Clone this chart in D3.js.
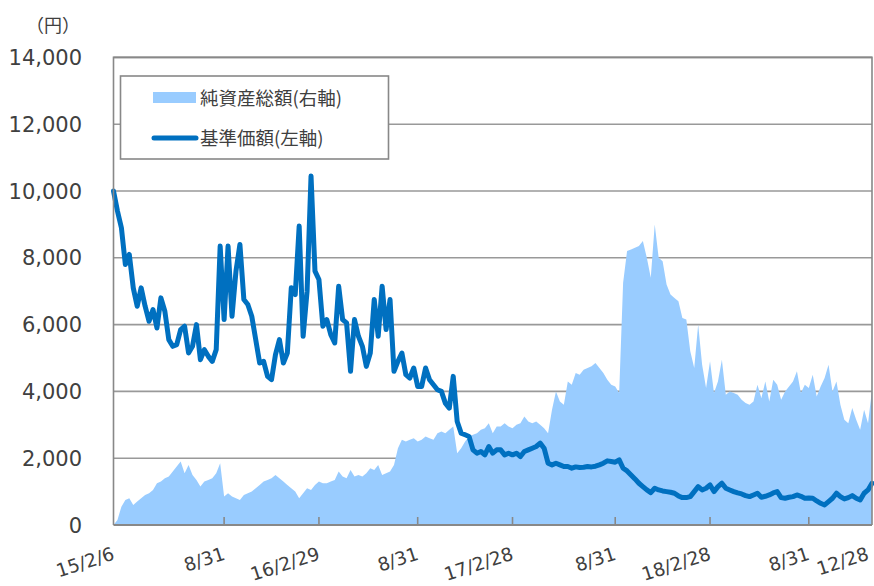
<!DOCTYPE html>
<html><head><meta charset="utf-8">
<script src="https://cdn.jsdelivr.net/npm/d3@7"></script>
<style>body{margin:0;background:#fff} svg{display:block}</style>
</head><body><svg id="c" width="874" height="586"></svg>
<script>
// 基準価額 (left axis, 円), weekly samples
const navValues = [
10000,9400,8900,7800,8100,7100,6550,7100,6550,6100,
6450,5900,6800,6400,5550,5350,5400,5850,5950,5150,
5350,6000,4950,5250,5050,4900,5250,8350,6150,8350,
6250,7600,8400,6750,6600,6250,5550,4850,4900,4450,
4350,5100,5550,4850,5150,7100,6900,8950,5650,7000,
10450,7600,7350,5950,6150,5700,5450,7150,6150,6050,
4600,6150,5650,5350,4750,5150,6750,5650,7150,5850,
6750,4600,4900,5150,4500,4400,4700,4150,4150,4700,
4350,4200,4050,4000,3650,3500,4450,3100,2750,2700,
2650,2250,2150,2200,2100,2350,2150,2250,2250,2100,
2150,2100,2150,2050,2200,2250,2300,2350,2450,2300,
1850,1800,1850,1800,1750,1750,1700,1740,1720,1730,
1750,1740,1760,1800,1850,1920,1900,1880,1950,1700,
1620,1500,1380,1250,1150,1050,970,1100,1050,1020,
1000,980,950,870,820,820,850,1000,1150,1050,
1100,1200,1000,1150,1250,1100,1050,1000,960,930,
880,850,900,950,830,860,900,960,1000,820,
800,830,850,900,860,800,810,800,720,650,
600,700,800,950,850,780,820,880,800,750,
950,1050,1250];
// 純資産総額 (right axis, not labelled)
const assetValues = [
0,150,550,750,800,600,700,800,900,950,
1050,1250,1300,1400,1450,1600,1750,1900,1550,1800,
1500,1350,1150,1300,1350,1400,1550,1850,850,950,
850,800,750,900,950,1000,1100,1200,1300,1350,
1400,1500,1400,1300,1200,1100,1000,800,950,1100,
1050,1200,1300,1250,1250,1300,1350,1600,1450,1400,
1650,1450,1500,1450,1550,1700,1650,1800,1500,1550,
1600,1800,2300,2550,2500,2550,2600,2500,2550,2650,
2600,2550,2750,2800,2750,2850,2950,2150,2300,2500,
2650,2700,2750,2850,2900,3050,2750,2950,2950,3050,
2950,2900,3000,3050,3250,3100,3050,3100,3000,2900,
2750,3450,4000,3700,3600,4300,4200,4550,4500,4650,
4700,4750,4850,4700,4550,4350,4200,4150,3950,7250,
8200,8250,8300,8350,8500,8000,7400,9000,8000,7900,
7200,6900,6800,6700,6200,6150,5200,4700,6000,4800,
4100,4900,3950,4300,4950,3900,4000,3950,3900,3750,
3650,3600,3700,4200,3800,4300,3700,4350,4200,3750,
4000,4150,4300,4600,3950,4200,4100,4500,3850,4150,
4400,4800,4000,4300,3600,3150,3050,3500,3150,2850,
3450,3050,4050];
const yTicks = [0,2000,4000,6000,8000,10000,12000,14000];
const xTickIndex = [0,28,52,77,101,127,151,176,192];
const xTickLabels = ["15/2/6","8/31","16/2/29","8/31","17/2/28","8/31","18/2/28","8/31","12/28"];
const legendLabels = ["純資産総額(右軸)","基準価額(左軸)"];
const unitLabel = "（円）";

const svg = d3.select("#c");
const L = 113.5, R = 872, T = 57.4, B = 525;
const font = "'DejaVu Sans', Verdana, sans-serif";
const jfont = "'Noto Sans CJK JP', 'Noto Sans', sans-serif";

const x = d3.scaleLinear().domain([0, navValues.length - 1]).range([L, R]);
const y = d3.scaleLinear().domain([0, 14000]).range([B, T]);
const y2 = d3.scaleLinear().domain([0, 14000]).range([B, T]);

// gridlines
svg.append("g").selectAll("line").data(yTicks.filter(d => d > 0)).join("line")
  .attr("x1", L).attr("x2", R).attr("y1", d => y(d)).attr("y2", d => y(d))
  .attr("stroke", "#999").attr("stroke-width", 1.6);

// area
svg.append("path").datum(assetValues)
  .attr("fill", "#99CCFF")
  .attr("d", d3.area().x((d, i) => x(i)).y0(B).y1(d => y2(d)));

// line
svg.append("path").datum(navValues)
  .attr("fill", "none").attr("stroke", "#0070C0").attr("stroke-width", 5)
  .attr("stroke-linejoin", "round").attr("stroke-linecap", "round")
  .attr("d", d3.line().x((d, i) => x(i)).y(d => y(d)));

// border
svg.append("path").attr("d", `M${L},${B}V${T}H${R}V${B}`)
  .attr("fill", "none").attr("stroke", "#888").attr("stroke-width", 1.6);
svg.append("line").attr("x1", L).attr("x2", R).attr("y1", B).attr("y2", B)
  .attr("stroke", "#888").attr("stroke-width", 2);

// x ticks (inside)
svg.append("g").selectAll("line").data(xTickIndex.slice(1, -1)).join("line")
  .attr("x1", d => x(d)).attr("x2", d => x(d)).attr("y1", B).attr("y2", B - 8)
  .attr("stroke", "#888").attr("stroke-width", 1.6);

// y labels
svg.append("g").selectAll("text").data(yTicks).join("text")
  .attr("x", 82).attr("y", d => y(d)).attr("dy", "0.36em")
  .attr("text-anchor", "end").attr("font-family", font).attr("font-size", 21)
  .attr("fill", "#404040").text(d => d3.format(",")(d));

// x labels
svg.append("g").selectAll("text").data(xTickIndex).join("text")
  .attr("transform", d => `translate(${Math.min(x(d) + 2, 870)},559) rotate(-18)`)
  .attr("text-anchor", "end").attr("font-family", font).attr("font-size", 18.5)
  .attr("fill", "#404040").text((d, i) => xTickLabels[i]);

// unit
svg.append("text").attr("x", 53).attr("y", 32).attr("text-anchor", "middle")
  .attr("font-family", jfont).attr("font-size", 18).attr("fill", "#404040").text(unitLabel);

// legend
const lg = svg.append("g");
lg.append("rect").attr("x", 120.5).attr("y", 76).attr("width", 268).attr("height", 83)
  .attr("fill", "#fff").attr("stroke", "#888").attr("stroke-width", 1.6);
lg.append("rect").attr("x", 153).attr("y", 92).attr("width", 43).attr("height", 11).attr("fill", "#99CCFF");
lg.append("line").attr("x1", 154).attr("x2", 196).attr("y1", 138).attr("y2", 138)
  .attr("stroke", "#0070C0").attr("stroke-width", 5).attr("stroke-linecap", "round");
lg.selectAll("text").data(legendLabels).join("text")
  .attr("x", 200).attr("y", (d, i) => i === 0 ? 98 : 138).attr("dy", "0.36em")
  .attr("font-family", jfont).attr("font-size", 18.5).attr("fill", "#404040").text(d => d);
</script></body></html>
